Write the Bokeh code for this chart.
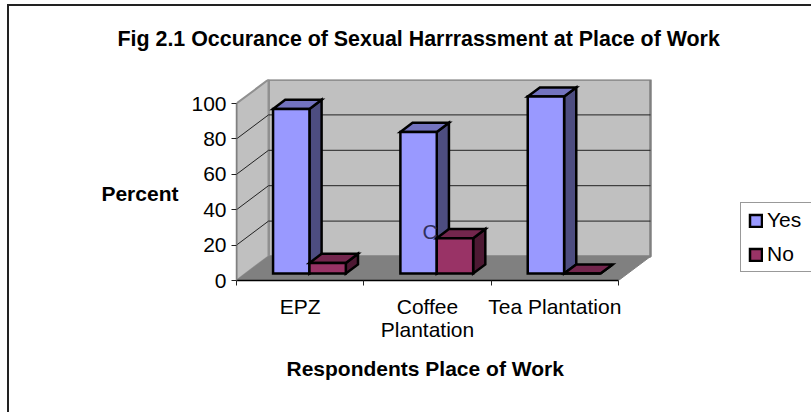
from bokeh.plotting import figure
from bokeh.embed import file_html
from bokeh.resources import INLINE
from bokeh.models import (FixedTicker, Legend, LegendItem, LinearAxis, Range1d, Title, Label)

categories = ["EPZ", "Coffee\nPlantation", "Tea Plantation"]
yes_values = [93, 80, 100]
no_values = [6, 20, 0]
y_ticks = [0, 20, 40, 60, 80, 100]
TITLE = "Fig 2.1 Occurance of Sexual Harrrassment at Place of Work"
Y_LABEL = "\nPercent"
X_LABEL = "Respondents Place of Work"
FONT = "Liberation Sans"

DX = 32 / 127.33
DY = 24 / 1.77
F0, F1 = 0.29, 0.67
BAR_W = 1 / 3.5
GAP = 0.75 / 3.5
n = len(categories)

border_css = ("linear-gradient(#222,#222) 7px 4px/2px 100% no-repeat,"
              "linear-gradient(#222,#222) 7px 4px/100% 2px no-repeat")

p = figure(width=811, height=412, output_backend="svg", toolbar_location=None,
           x_range=Range1d(0, 575 / 127.33), y_range=Range1d(0, 201 / 1.77),
           x_axis_type=None, y_axis_type=None,
           min_border_left=236, min_border_right=0, min_border_top=79, min_border_bottom=132,
           outline_line_color=None, background_fill_color=None,
           border_fill_color=None, styles={"background": border_css})
p.grid.visible = False

p.patch([DX, n + DX, n + DX, DX], [DY, DY, 100 + DY, 100 + DY], fill_color="#C0C0C0",
        line_color="#808080", line_width=2.5)
p.patch([0, DX, DX, 0], [0, DY, 100 + DY, 100], fill_color="#C0C0C0",
        line_color="#909090", line_width=2)
p.patch([0, n, n + DX, DX], [0, 0, DY, DY], fill_color="#808080", line_color="#808080", line_width=1)

grid_vals = [v for v in y_ticks if 0 < v < 100]
p.multi_line([[0, DX, n + DX] for v in grid_vals], [[v, v + DY, v + DY] for v in grid_vals],
             line_color="#222222", line_width=1)


def faces(x0, w, v):
    xa, xb = x0 + F0 * DX, x0 + w + F0 * DX
    ya, yb = F0 * DY, v + F0 * DY
    ddx, ddy = (F1 - F0) * DX, (F1 - F0) * DY
    front = ([xa, xb, xb, xa], [ya, ya, yb, yb])
    top = ([xa, xb, xb + ddx, xa + ddx], [yb, yb, yb + ddy, yb + ddy])
    side = ([xb, xb + ddx, xb + ddx, xb], [ya, ya + ddy, yb + ddy, yb])
    return front, top, side


def draw(face, fill):
    return p.patches([face[0]], [face[1]], fill_color=fill, line_color="black",
                     line_width=2.5, line_join="miter")


yes_r = no_r = None
for i in range(n):
    for j, (vals, cols) in enumerate([(yes_values, ("#9999FF", "#7373BF", "#4D4D80")),
                                      (no_values, ("#993366", "#73264D", "#4D1933"))]):
        front, top, side = faces(i + GAP + j * BAR_W, BAR_W, vals[i])
        draw(side, cols[2])
        draw(top, cols[1])
        r = draw(front, cols[0])
        if j == 0:
            yes_r = r
        else:
            no_r = r

p.add_layout(Label(x=1 + GAP + F0 * DX + BAR_W, y=25 + F0 * DY - 1, text="C", text_font=FONT,
                   text_font_size="21px", text_color="#303060", text_align="right",
                   text_baseline="middle", x_offset=1))

yaxis = LinearAxis(ticker=FixedTicker(ticks=y_ticks), bounds=(0, 100), axis_label=Y_LABEL,
                   axis_label_text_font=FONT, axis_label_text_font_size="21px",
                   axis_label_text_font_style="bold", axis_label_orientation="horizontal",
                   axis_label_text_color="black", axis_label_standoff=10,
                   major_label_text_font=FONT, major_label_text_font_size="21px",
                   major_label_text_color="black", major_tick_in=0, major_tick_out=5,
                   minor_tick_line_color=None, axis_line_color="#808080", axis_line_width=1.5,
                   major_tick_line_color="#222222", major_label_standoff=5)
p.add_layout(yaxis, "left")

xaxis = LinearAxis(ticker=FixedTicker(ticks=[i + 0.5 for i in range(n)], minor_ticks=list(range(n + 1))),
                   bounds=(0, n),
                   major_label_overrides={i + 0.5: c for i, c in enumerate(categories)},
                   major_label_text_font=FONT, major_label_text_font_size="21px",
                   major_label_text_line_height=1.0,
                   major_label_text_color="black", major_tick_line_color=None,
                   minor_tick_in=0, minor_tick_out=5, minor_tick_line_color="#222222",
                   axis_line_color="black", axis_line_width=1.5, major_label_standoff=8)
p.add_layout(xaxis, "below")

p.add_layout(Title(text=X_LABEL, text_font=FONT, text_font_size="21px", text_font_style="bold",
                   text_color="black", align="left", offset=50, standoff=22), "below")

p.add_layout(Title(text=TITLE, text_font=FONT, text_font_size="21.4px", text_font_style="bold",
                   text_color="black", align="left", offset=-119, standoff=53,
                   vertical_align="top"), "above")

legend = Legend(items=[LegendItem(label="Yes", renderers=[yes_r]),
                       LegendItem(label="No", renderers=[no_r])],
                location=(504, 8), orientation="vertical", padding=(7, 5), spacing=10, margin=0,
                glyph_width=15, glyph_height=15, label_height=20, label_width=42, label_standoff=4,
                label_text_font=FONT, label_text_font_size="21px", label_text_color="black",
                border_line_color="#333333", border_line_width=1.5, background_fill_color="white",
                background_fill_alpha=1)
p.add_layout(legend)

open("out.html", "w").write(file_html(p, INLINE))
